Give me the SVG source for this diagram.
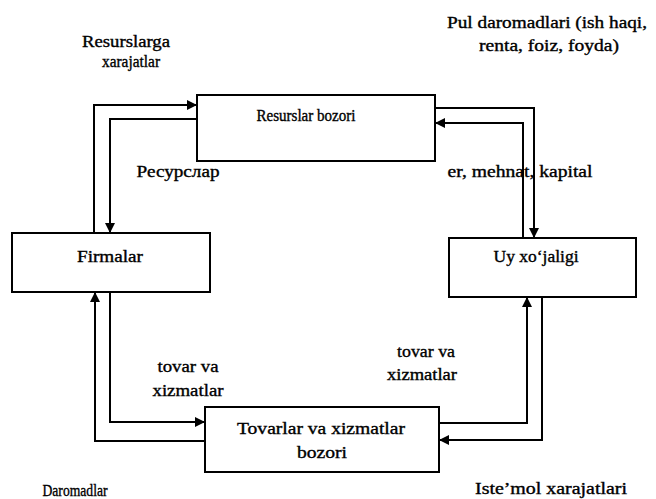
<svg xmlns="http://www.w3.org/2000/svg" width="656" height="499" viewBox="0 0 656 499">
<defs>
<marker id="ah" viewBox="0 0 10 10" refX="10" refY="5" markerWidth="11" markerHeight="10" markerUnits="userSpaceOnUse" orient="auto">
<path d="M0,0 L10,5 L0,10 z" fill="#000"/>
</marker>
<style>
.box{fill:#fff;stroke:#000;stroke-width:2}
.ln{fill:none;stroke:#000;stroke-width:2}
.ar{marker-end:url(#ah)}
text{font-family:"Liberation Serif","DejaVu Serif",serif;font-size:16px;fill:#000;stroke:#000;stroke-width:0.35;text-anchor:middle}
</style>
</defs>
<rect width="656" height="499" fill="#fff"/>
<g id="connectors">
<polyline class="ln ar" points="94,233 94,105 197,105"/>
<polyline class="ln ar" points="197,119 110,119 110,233"/>
<polyline class="ln ar" points="435,108 534,108 534,238"/>
<polyline class="ln ar" points="523,238 523,123 435,123"/>
<polyline class="ln ar" points="110,292 110,422 205,422"/>
<polyline class="ln ar" points="205,441 95,441 95,292"/>
<polyline class="ln ar" points="439,423 527,423 527,297"/>
<polyline class="ln ar" points="542,297 542,440 439,440"/>
</g>
<g id="labels">
<text x="126" y="47" textLength="88" lengthAdjust="spacingAndGlyphs">Resurslarga</text>
<text x="131" y="67" textLength="58" lengthAdjust="spacingAndGlyphs">xarajatlar</text>
<text x="547" y="28" textLength="200" lengthAdjust="spacingAndGlyphs">Pul daromadlari (ish haqi,</text>
<text x="549" y="51" textLength="140" lengthAdjust="spacingAndGlyphs">renta, foiz, foyda)</text>
<text x="178" y="177" textLength="83" lengthAdjust="spacingAndGlyphs">Ресурслар</text>
<text x="520" y="177" textLength="145" lengthAdjust="spacingAndGlyphs">er, mehnat, kapital</text>
<text x="188" y="372" textLength="61" lengthAdjust="spacingAndGlyphs">tovar va</text>
<text x="188" y="396" textLength="71" lengthAdjust="spacingAndGlyphs">xizmatlar</text>
<text x="426" y="357" textLength="58" lengthAdjust="spacingAndGlyphs">tovar va</text>
<text x="422" y="380" textLength="70" lengthAdjust="spacingAndGlyphs">xizmatlar</text>
<text x="75" y="496" textLength="65" lengthAdjust="spacingAndGlyphs">Daromadlar</text>
<text x="551" y="494" textLength="152" lengthAdjust="spacingAndGlyphs">Iste’mol xarajatlari</text>
</g>
<g id="node-resurslar-bozori">
<rect class="box" x="197" y="95" width="238" height="66"/>
<text x="306" y="121" textLength="99" lengthAdjust="spacingAndGlyphs">Resurslar bozori</text>
</g>
<g id="node-firmalar">
<rect class="box" x="12" y="233" width="198" height="59"/>
<text x="110" y="262" textLength="66" lengthAdjust="spacingAndGlyphs">Firmalar</text>
</g>
<g id="node-uy-xojaligi">
<rect class="box" x="449" y="238" width="187" height="59"/>
<text x="536" y="262" textLength="85" lengthAdjust="spacingAndGlyphs">Uy xo‘jaligi</text>
</g>
<g id="node-tovarlar-bozori">
<rect class="box" x="205" y="407" width="234" height="65"/>
<text x="321" y="434" textLength="168" lengthAdjust="spacingAndGlyphs">Tovarlar va xizmatlar</text>
<text x="322" y="458" textLength="50" lengthAdjust="spacingAndGlyphs">bozori</text>
</g>
</svg>
